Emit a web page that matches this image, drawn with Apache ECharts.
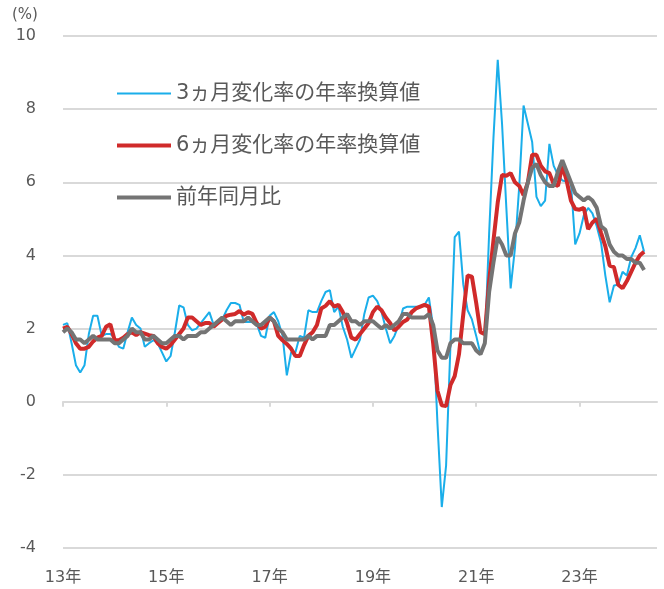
<!DOCTYPE html>
<html lang="ja">
<head>
<meta charset="UTF-8">
<title>コアCPI</title>
<script src="https://cdn.jsdelivr.net/npm/echarts@6/dist/echarts.min.js"></script>
<style>
  html, body { margin: 0; padding: 0; background: #fff; }
  #chart { width: 664px; height: 589px; }
</style>
</head>
<body>
<div id="chart"></div>
<script>
// 2013年1月〜2024年4月（月次）、軸は2024年7月まで
var startYear = 2013;
var axisMonths = 139;

// 3ヵ月変化率の年率換算値
var rate3m = [
  2.1, 2.15, 1.6, 1.0, 0.8, 1.0, 1.85, 2.35, 2.35, 1.8, 1.85, 1.85,
  1.75, 1.5, 1.45, 1.9, 2.3, 2.1, 2.0, 1.5, 1.6, 1.68, 1.6, 1.35,
  1.1, 1.25, 1.9, 2.63, 2.58, 2.1, 1.95, 2.0, 2.15, 2.3, 2.45, 2.1,
  2.15, 2.25, 2.5, 2.7, 2.7, 2.65, 2.18, 2.18, 2.18, 2.13, 1.8, 1.75,
  2.35, 2.45, 2.2, 1.81, 0.72, 1.35, 1.35, 1.8, 1.75, 2.5, 2.45, 2.45,
  2.75, 3.0, 3.05, 2.45, 2.6, 2.05, 1.7, 1.2, 1.45, 1.7, 2.4, 2.85,
  2.9, 2.75, 2.45, 2.0, 1.6, 1.8, 2.1, 2.55, 2.6, 2.6, 2.6, 2.6,
  2.65, 2.85, 2.05, -0.6, -2.88, -1.75, 1.5, 4.5, 4.65, 3.2, 2.5, 2.25,
  1.8, 1.3, 1.6, 4.6, 7.2, 9.35, 7.6, 5.3, 3.1, 4.2, 5.9, 8.1,
  7.6, 7.1, 5.6, 5.35, 5.5, 7.05, 6.45, 6.2, 6.05, 6.02, 6.0, 4.3,
  4.6, 5.1, 5.3, 5.15, 4.8, 4.35, 3.45, 2.72, 3.18, 3.2, 3.55, 3.45,
  3.95, 4.2, 4.55, 4.1
];

// 6ヵ月変化率の年率換算値
var rate6m = [
  2.0, 2.05, 1.85, 1.6, 1.45, 1.45, 1.5, 1.65, 1.75, 1.8, 2.05, 2.12,
  1.68, 1.68, 1.75, 1.85, 1.9, 1.82, 1.9, 1.86, 1.82, 1.8, 1.6, 1.5,
  1.45, 1.55, 1.7, 1.85, 2.0, 2.3, 2.3, 2.2, 2.1, 2.15, 2.15, 2.05,
  2.15, 2.25, 2.35, 2.38, 2.4, 2.48, 2.38, 2.45, 2.4, 2.15, 2.0, 2.05,
  2.3, 2.2, 1.8, 1.68, 1.58, 1.45, 1.25, 1.25, 1.55, 1.8, 1.9, 2.1,
  2.55, 2.62, 2.75, 2.6, 2.65, 2.45, 2.15, 1.75, 1.7, 1.85, 2.0, 2.15,
  2.45, 2.6, 2.5, 2.3, 2.15, 1.95, 2.05, 2.18, 2.25, 2.45, 2.55, 2.6,
  2.65, 2.6, 1.6, 0.3, -0.1, -0.12, 0.45, 0.7, 1.3, 2.4, 3.45, 3.42,
  2.7, 1.9, 1.85, 3.3, 4.4, 5.45, 6.2, 6.18, 6.25, 6.0, 5.9, 5.65,
  6.0, 6.75, 6.75, 6.45, 6.3, 6.25, 5.95, 5.9, 6.45, 6.05, 5.5, 5.27,
  5.25, 5.3, 4.72, 4.9, 5.0, 4.62, 4.25, 3.72, 3.68, 3.2, 3.1, 3.3,
  3.55, 3.8, 4.0, 4.1
];

// 前年同月比
var yoy = [
  1.9, 2.0, 1.9, 1.7, 1.7, 1.6, 1.7, 1.8, 1.7, 1.7, 1.7, 1.7,
  1.6, 1.6, 1.7, 1.8, 2.0, 1.9, 1.9, 1.7, 1.7, 1.8, 1.7, 1.6,
  1.6, 1.7, 1.8, 1.8, 1.7, 1.8, 1.8, 1.8, 1.9, 1.9, 2.0, 2.1,
  2.2, 2.3, 2.2, 2.1, 2.2, 2.2, 2.2, 2.3, 2.2, 2.1, 2.1, 2.2,
  2.3, 2.2, 2.0, 1.9, 1.7, 1.7, 1.7, 1.7, 1.7, 1.8, 1.7, 1.8,
  1.8, 1.8, 2.1, 2.1, 2.2, 2.3, 2.4, 2.2, 2.2, 2.1, 2.2, 2.2,
  2.2, 2.1, 2.0, 2.1, 2.0, 2.1, 2.2, 2.4, 2.4, 2.3, 2.3, 2.3,
  2.3, 2.4, 2.1, 1.4, 1.2, 1.2, 1.6, 1.7, 1.7, 1.6, 1.6, 1.6,
  1.4, 1.3, 1.6, 3.0, 3.8, 4.5, 4.3, 4.0, 4.0, 4.6, 4.9, 5.5,
  6.0, 6.4, 6.5, 6.2, 6.0, 5.9, 5.9, 6.3, 6.6, 6.3, 6.0, 5.7,
  5.6, 5.5, 5.6, 5.5, 5.3, 4.8, 4.7, 4.3, 4.1, 4.0, 4.0, 3.9,
  3.9, 3.8, 3.8, 3.6
];

var seriesNames = ['3ヵ月変化率の年率換算値', '6ヵ月変化率の年率換算値', '前年同月比'];
var yTicks = [-4, -2, 0, 2, 4, 6, 8, 10];

// カテゴリ（年月）
var months = [];
for (var i = 0; i < axisMonths; i++) {
    var y = startYear + Math.floor(i / 12);
    var m = i % 12 + 1;
    months.push(y + '-' + (m < 10 ? '0' + m : m));
}

// 奇数年の1月だけ目盛とラベル
function isTick(idx) {
    return idx % 24 === 0;
}

var textColor = '#595959';
var font = '"DejaVu Sans", "Noto Sans CJK JP", sans-serif';

var myChart = echarts.init(document.getElementById('chart'));
myChart.setOption({
    animation: false,
    textStyle: {fontFamily: font},
    grid: {left: 63, right: 7, top: 36, bottom: 41, containLabel: false, outerBoundsMode: 'none'},
    graphic: [{
        type: 'text', left: 12, top: 8,
        style: {text: '(%)', fontSize: 15, fill: textColor, fontFamily: font}
    }],
    legend: {
        orient: 'vertical',
        left: 117,
        top: 83,
        padding: 0,
        itemWidth: 54,
        itemHeight: 20,
        itemGap: 31,
        textStyle: {fontSize: 21, color: textColor, fontFamily: font},
        data: seriesNames.map(function (n, k) {
            var h = [2, 4, 4][k];
            return {name: n, icon: 'path://M0,0 L54,0 L54,' + h + ' L0,' + h + ' Z'};
        })
    },
    xAxis: [
        {
            // 下端の年ラベル
            type: 'category',
            data: months,
            position: 'bottom',
            boundaryGap: false,
            axisLine: {show: false, onZero: false},
            axisTick: {show: false},
            axisLabel: {
                interval: function (idx) { return isTick(idx); },
                margin: 22,
                fontSize: 16,
                color: textColor,
                formatter: function (v) { return v.slice(2, 4) + '年'; }
            },
            splitLine: {show: false}
        },
        {
            // 0%の軸線と目盛
            type: 'category',
            data: months,
            position: 'top',
            boundaryGap: false,
            axisLine: {show: true, onZero: true, lineStyle: {color: '#d9d9d9', width: 2}},
            axisTick: {show: true, inside: true, interval: function (idx) { return isTick(idx); }, length: 5, lineStyle: {color: '#d9d9d9', width: 2}},
            axisLabel: {show: false},
            splitLine: {show: false}
        }
    ],
    yAxis: {
        type: 'value',
        min: yTicks[0],
        max: yTicks[yTicks.length - 1],
        interval: 2,
        axisLine: {show: false},
        axisTick: {show: false},
        axisLabel: {fontSize: 16, color: textColor, margin: 27},
        splitLine: {lineStyle: {color: '#d9d9d9', width: 2}}
    },
    series: [
        {
            name: seriesNames[0], type: 'line', data: rate3m, symbol: 'none',
            lineStyle: {color: '#1aaeea', width: 2}, itemStyle: {color: '#1aaeea'}, z: 2
        },
        {
            name: seriesNames[1], type: 'line', data: rate6m, symbol: 'none',
            lineStyle: {color: '#d02a2a', width: 4}, itemStyle: {color: '#d02a2a'}, z: 3
        },
        {
            name: seriesNames[2], type: 'line', data: yoy, symbol: 'none',
            lineStyle: {color: '#747474', width: 4}, itemStyle: {color: '#747474'}, z: 4
        }
    ]
});
</script>
</body>
</html>
